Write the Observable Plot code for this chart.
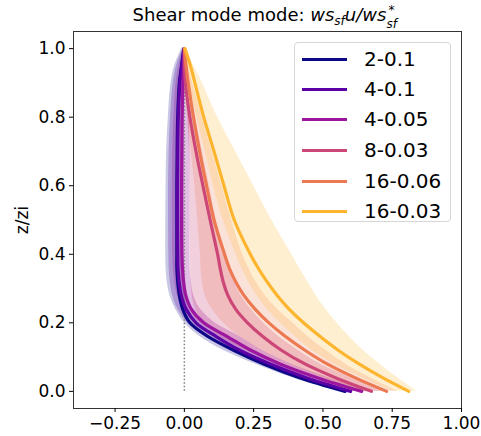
<!DOCTYPE html>
<html>
<head>
<meta charset="utf-8">
<script src="https://cdn.jsdelivr.net/npm/d3@7"></script>
<script src="https://cdn.jsdelivr.net/npm/@observablehq/plot@0.6"></script>
<style>
  html, body { margin: 0; padding: 0; background: #fff; }
  #wrap { position: relative; width: 481px; height: 436px; font-family: "DejaVu Sans", sans-serif; color: #000; }
  #title { position: absolute; left: 73px; width: 388px; top: 5px; text-align: center; font-size: 18px; line-height: 20px; white-space: nowrap; }
  #title i { font-style: oblique; }
  .sub { font-size: 12px; position: relative; top: 4px; }
  .stack { display: inline-block; position: relative; width: 15px; height: 10px; font-size: 12px; }
  .stack .up { position: absolute; left: 2px; top: -11px; }
  .stack .dn { position: absolute; left: 0; top: 3px; }
  #ylab { position: absolute; left: 22px; top: 220px; transform: translate(-50%, -50%) rotate(-90deg); font-size: 17px; }
  #legend { position: absolute; left: 294px; top: 42px; width: 157px; height: 180px; box-sizing: border-box;
            background: rgba(255,255,255,0.8); border: 1px solid #d6d6d6; border-radius: 4px; }
  .item { position: absolute; left: 0; height: 24px; display: flex; align-items: center; font-size: 20px; }
  .sw { width: 45px; height: 3px; margin-left: 7px; margin-right: 17px; }
</style>
</head>
<body>
<div id="wrap">
  <div id="chart"></div>
  <div id="title">Shear mode mode: <i>ws<span class="sub">sf</span>u/ws<span class="stack"><span class="up">*</span><span class="dn">sf</span></span></i></div>
  <div id="ylab">z/zi</div>
  <div id="legend"></div>
</div>
<script>
// ---- data ----
const zLevels = [0, 0.04, 0.08, 0.12, 0.16, 0.2, 0.24, 0.28, 0.32, 0.36, 0.4, 0.5, 0.6, 0.7, 0.8, 0.9, 0.95, 1.0];

const seriesNames = ["2-0.1", "4-0.1", "4-0.05", "8-0.03", "16-0.06", "16-0.03"];
const seriesColors = ["#0d0887", "#5c01a6", "#9c179e", "#cc4778", "#ed7953", "#fdb42f"];
const bandOpacity = [0.22, 0.25, 0.28, 0.26, 0.22, 0.22];

// mean profiles
const mean_2_01   = [0.58, 0.415, 0.286, 0.178, 0.085, 0.02, -0.006, -0.018, -0.024, -0.027, -0.027, -0.027, -0.027, -0.026, -0.024, -0.018, -0.01, -0.002];
const mean_4_01   = [0.60, 0.44, 0.31, 0.20, 0.115, 0.042, 0.006, -0.011, -0.019, -0.023, -0.024, -0.025, -0.025, -0.024, -0.022, -0.016, -0.009, 0.0];
const mean_4_005  = [0.64, 0.48, 0.345, 0.24, 0.155, 0.07, 0.025, 0.005, -0.003, -0.007, -0.009, -0.01, -0.01, -0.009, -0.008, -0.005, -0.003, 0.0];
const mean_8_003  = [0.675, 0.545, 0.435, 0.35, 0.283, 0.228, 0.185, 0.157, 0.14, 0.129, 0.12, 0.093, 0.067, 0.042, 0.02, 0.004, 0.001, 0.0];
const mean_16_006 = [0.73, 0.615, 0.515, 0.435, 0.365, 0.305, 0.255, 0.215, 0.185, 0.162, 0.145, 0.107, 0.08, 0.055, 0.033, 0.014, 0.006, 0.0];
const mean_16_003 = [0.81, 0.715, 0.63, 0.555, 0.49, 0.43, 0.378, 0.335, 0.298, 0.266, 0.238, 0.18, 0.143, 0.107, 0.07, 0.038, 0.022, 0.002];

// spread (lower / upper envelope)
const lo_2_01   = [0.56, 0.39, 0.255, 0.14, 0.055, 0.0, -0.032, -0.052, -0.062, -0.066, -0.067, -0.067, -0.066, -0.064, -0.058, -0.048, -0.035, -0.01];
const hi_2_01   = [0.60, 0.44, 0.31, 0.20, 0.115, 0.05, 0.016, 0.002, -0.004, -0.008, -0.01, -0.01, -0.01, -0.01, -0.01, -0.005, 0.0, 0.0];
const lo_4_01   = [0.57, 0.41, 0.275, 0.16, 0.075, 0.012, -0.024, -0.042, -0.051, -0.055, -0.056, -0.057, -0.057, -0.055, -0.05, -0.04, -0.028, -0.006];
const hi_4_01   = [0.62, 0.47, 0.345, 0.235, 0.15, 0.075, 0.032, 0.013, 0.005, 0.002, 0.0, 0.0, 0.0, 0.0, 0.0, 0.0, 0.002, 0.003];
const lo_4_005  = [0.61, 0.44, 0.31, 0.20, 0.11, 0.038, -0.004, -0.025, -0.035, -0.04, -0.042, -0.043, -0.043, -0.042, -0.038, -0.03, -0.02, -0.004];
const hi_4_005  = [0.67, 0.52, 0.385, 0.28, 0.20, 0.11, 0.058, 0.034, 0.025, 0.021, 0.02, 0.02, 0.02, 0.02, 0.018, 0.012, 0.008, 0.003];
const lo_8_003  = [0.62, 0.47, 0.34, 0.22, 0.13, 0.07, 0.04, 0.028, 0.024, 0.022, 0.021, 0.02, 0.02, 0.018, 0.012, 0.006, 0.003, 0.0];
const hi_8_003  = [0.72, 0.60, 0.49, 0.41, 0.34, 0.285, 0.24, 0.205, 0.18, 0.16, 0.145, 0.115, 0.09, 0.065, 0.04, 0.015, 0.008, 0.0];
const lo_16_006 = [0.64, 0.50, 0.38, 0.28, 0.20, 0.14, 0.10, 0.075, 0.065, 0.06, 0.058, 0.048, 0.038, 0.025, 0.012, 0.003, 0.0, 0.0];
const hi_16_006 = [0.77, 0.67, 0.58, 0.51, 0.445, 0.39, 0.335, 0.292, 0.258, 0.232, 0.21, 0.17, 0.135, 0.10, 0.065, 0.03, 0.015, 0.0];
const lo_16_003 = [0.75, 0.64, 0.54, 0.46, 0.40, 0.345, 0.298, 0.262, 0.232, 0.207, 0.186, 0.14, 0.105, 0.075, 0.045, 0.018, 0.008, 0.0];
const hi_16_003 = [0.84, 0.77, 0.705, 0.645, 0.595, 0.55, 0.51, 0.475, 0.445, 0.415, 0.387, 0.315, 0.25, 0.185, 0.12, 0.065, 0.035, 0.005];

const xTicks = [-0.25, 0, 0.25, 0.5, 0.75, 1.0];
const yTicks = [0, 0.2, 0.4, 0.6, 0.8, 1.0];

// ---- build tables ----
const means = [mean_2_01, mean_4_01, mean_4_005, mean_8_003, mean_16_006, mean_16_003];
const los = [lo_2_01, lo_4_01, lo_4_005, lo_8_003, lo_16_006, lo_16_003];
const his = [hi_2_01, hi_4_01, hi_4_005, hi_8_003, hi_16_006, hi_16_003];
const tables = seriesNames.map((name, i) =>
  zLevels.map((z, j) => ({series: name, z, x: means[i][j], lo: los[i][j], hi: his[i][j]})));

const fmtMinus = (d, n) => (d < 0 ? "\u2212" : "") + Math.abs(d).toFixed(n);

const marks = [];
tables.forEach((rows, i) => {
  marks.push(Plot.areaX(rows, {y: "z", x1: "lo", x2: "hi", fill: seriesColors[i], fillOpacity: bandOpacity[i], curve: "catmull-rom"}));
});
marks.push(Plot.ruleX([0], {y1: 0, y2: 1, stroke: "#808080", strokeWidth: 1.5, strokeDasharray: "1.5,2"}));
tables.forEach((rows, i) => {
  marks.push(Plot.line(rows, {x: "x", y: "z", stroke: seriesColors[i], strokeWidth: 3.2, curve: "catmull-rom"}));
});
marks.push(Plot.frame({stroke: "#333", strokeWidth: 1}));
marks.push(Plot.axisX({ticks: xTicks, tickFormat: d => fmtMinus(d, 2), tickSize: 4, tickPadding: 4, label: null, fontSize: 17}));
marks.push(Plot.axisY({ticks: yTicks, tickFormat: d => fmtMinus(d, 1), tickSize: 4, tickPadding: 4, label: null, fontSize: 17}));

const chart = Plot.plot({
  width: 481,
  height: 436,
  marginTop: 31,
  marginRight: 20,
  marginBottom: 28,
  marginLeft: 73,
  style: {fontFamily: "DejaVu Sans", fontSize: "17px", color: "#000", background: "#fff"},
  x: {domain: [-0.4, 1.0]},
  y: {domain: [-0.05, 1.05]},
  marks
});
document.getElementById("chart").appendChild(chart);

// legend
const legend = document.getElementById("legend");
const rowTops = [4, 34, 64, 95, 126, 156];
seriesNames.forEach((name, i) => {
  const it = document.createElement("div");
  it.className = "item";
  it.style.top = rowTops[i] + "px";
  const sw = document.createElement("span");
  sw.className = "sw";
  sw.style.background = seriesColors[i];
  const tx = document.createElement("span");
  tx.textContent = name;
  it.appendChild(sw); it.appendChild(tx);
  legend.appendChild(it);
});
</script>
</body>
</html>
